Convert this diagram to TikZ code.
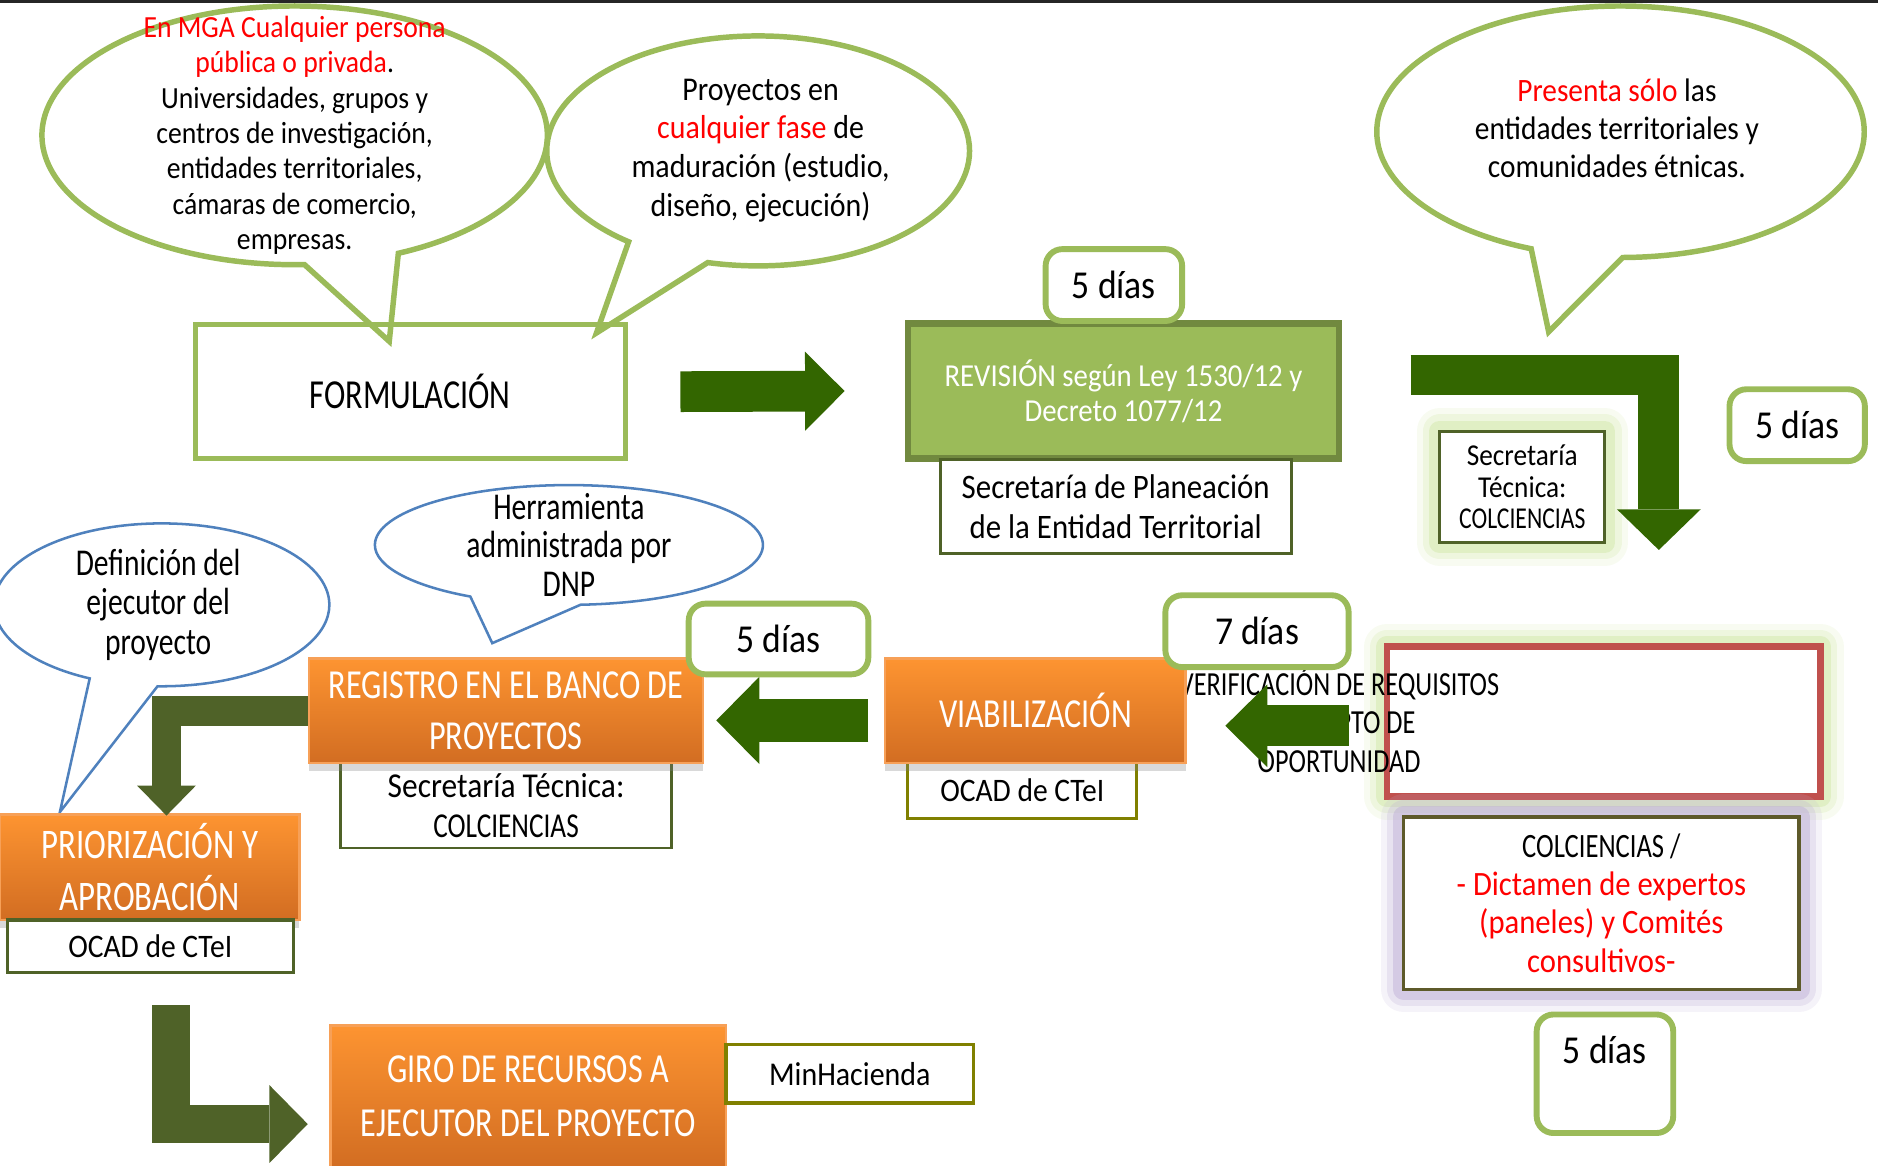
\documentclass[tikz,border=0pt]{standalone}
\usepackage{fontspec}
\setmainfont{Carlito}[FakeStretch=0.9]
\newfontfamily\angosta{Carlito}[FakeStretch=0.78]
\usetikzlibrary{shapes.callouts,arrows.meta,shadows}

\newcommand\tam[2]{\fontsize{#1}{#2}\selectfont}

\definecolor{verdeclaro}{HTML}{9BBB59}
\definecolor{verdeborde}{HTML}{71893F}
\definecolor{verdeflecha}{HTML}{336600}
\definecolor{oliva}{HTML}{4F6228}
\definecolor{amarillento}{HTML}{808000}
\definecolor{oscuro}{HTML}{5E5A2A}
\definecolor{naranjaalto}{HTML}{FD9431}
\definecolor{naranjabajo}{HTML}{D26D22}
\definecolor{naranjaborde}{HTML}{F7A057}
\definecolor{rojo}{HTML}{FF0000}
\definecolor{rojoborde}{HTML}{C0504D}
\definecolor{brilloverde}{HTML}{CFE6A4}
\definecolor{lila}{HTML}{BDAED6}
\definecolor{azul}{HTML}{4F81BD}

\tikzset{
  texto/.style={align=center, inner sep=0pt},
  burbuja/.style={ellipse callout, draw=verdeclaro, line width=1.3pt, fill=white, inner sep=0pt},
  burbujaazul/.style={ellipse callout, draw=azul, line width=0.6pt, fill=white, inner sep=0pt},
  dias/.style={draw=verdeclaro, line width=1.4pt, rounded corners=4pt, fill=white, texto, font=\tam{9.4}{11}},
  caja/.style={draw=#1, line width=0.7pt, fill=white, texto},
  naranja/.style={top color=naranjaalto, bottom color=naranjabajo, draw=naranjaborde, line width=0.6pt,
    text=white, texto, drop shadow={opacity=0.3, shadow xshift=0pt, shadow yshift=-2pt}},
  brillo/.style={preaction={draw=#1, line width=11pt, line join=round, opacity=.15},
    preaction={draw=#1, line width=8pt, line join=round, opacity=.25},
    preaction={draw=#1, line width=5pt, line join=round, opacity=.45}},
  flecha/.style n args={4}{draw=#1, line width=#2, line join=miter,
    -{Triangle[width=#3, length=#4, line width=0pt]}}
}

\begin{document}
\begin{tikzpicture}[x=1cm, y=-1cm]
\useasboundingbox (0,0) rectangle (15.68,9.73);
\draw[line width=0.7pt, black!85] (0,0.01) -- (15.68,0.01);

% 1. Burbujas de arriba
\node[burbuja, minimum width=4.22cm, minimum height=2.16cm, callout absolute pointer={(3.25,2.85)}, callout pointer arc=22] (burbujaA) at (2.46,1.13) {};
\node[texto, font=\tam{7.3}{8.4}] (textoA) at (2.46,1.13) {\textcolor{rojo}{En MGA Cualquier persona}\\ \textcolor{rojo}{pública o privada}.\\ Universidades, grupos y\\ centros de investigación,\\ entidades territoriales,\\ cámaras de comercio,\\ empresas.};

\node[burbuja, minimum width=3.53cm, minimum height=1.92cm, callout absolute pointer={(4.98,2.78)}, callout pointer arc=24] (burbujaB) at (6.33,1.26) {};
\node[texto, font=\tam{7.9}{9.2}] (textoB) at (6.35,1.255) {Proyectos en\\ \textcolor{rojo}{cualquier fase} de\\ maduración (estudio,\\ diseño, ejecución)};

\node[burbuja, minimum width=4.07cm, minimum height=2.10cm, callout absolute pointer={(12.93,2.77)}, callout pointer arc=22] (burbujaC) at (13.53,1.10) {};
\node[texto, font=\tam{7.75}{9.1}] (textoC) at (13.50,1.07) {\textcolor{rojo}{Presenta sólo} las\\ entidades territoriales y\\ comunidades étnicas.};

% 2. Primera fila
\node[caja=verdeclaro, line width=1.2pt, fill=none, minimum width=3.59cm, minimum height=1.12cm, font=\angosta\tam{9.8}{12}] (formulacion) at (3.425,3.27) {FORMULACIÓN};
\node[draw=verdeborde, fill=verdeclaro, line width=1.6pt, text=white, texto, minimum width=3.6cm, minimum height=1.13cm, font=\tam{7.6}{8.3}] (revision) at (9.38,3.265) {REVISIÓN según Ley 1530/12 y\\ Decreto 1077/12};
\node[caja=oliva, minimum width=2.93cm, minimum height=0.78cm, font=\tam{8.15}{9.4}] (planeacion) at (9.315,4.23) {Secretaría de Planeación\\ de la Entidad Territorial};
\node[dias, minimum width=1.14cm, minimum height=0.60cm] (dias1) at (9.30,2.38) {5 días};

\draw[flecha={verdeflecha}{0.34cm}{0.66cm}{0.33cm}] ([xshift=0.44cm]formulacion.east) -- ([xshift=-0.5cm]revision.west);

\node[caja=oliva, brillo=brilloverde, minimum width=1.38cm, minimum height=0.93cm, font=\tam{7.2}{7.5}] (sectec1) at (12.71,4.065) {Secretaría\\ Técnica:\\ {\angosta COLCIENCIAS}};
\node[dias, minimum width=1.13cm, minimum height=0.60cm] (dias2) at (15.005,3.55) {5 días};

% 3. Segunda fila
\node[burbujaazul, minimum width=2.80cm, minimum height=1.36cm, callout absolute pointer={(0.50,6.78)}, callout pointer arc=24] (burbujaE) at (1.35,5.05) {};
\node[texto, font=\angosta\tam{9}{9.3}] (textoE) at (1.32,5.05) {Definición del\\ ejecutor del\\ proyecto};
\node[burbujaazul, minimum width=3.24cm, minimum height=1.00cm, callout absolute pointer={(4.11,5.37)}, callout pointer arc=34] (burbujaD) at (4.75,4.55) {};
\node[texto, font=\angosta\tam{9}{9.2}] (textoD) at (4.75,4.55) {Herramienta\\ administrada por\\ DNP};

\node[caja=rojoborde, line width=1.6pt, brillo=brilloverde, minimum width=3.62cm, minimum height=1.25cm] (requisitos) at (13.39,6.025) {};
\node[texto, font=\angosta\tam{8}{9.1}] (textoreq) at (11.18,6.01) {VERIFICACIÓN DE REQUISITOS\\ CONCEPTO DE\\ OPORTUNIDAD};
\draw[flecha={verdeflecha}{0.34cm}{0.70cm}{0.34cm}] ([shift={(0.57,-0.135)}]revision.east) -| ([shift={(0.46,-0.78)}]requisitos.north);

\node[caja=amarillento, minimum width=1.91cm, minimum height=0.46cm, font=\tam{7.8}{9}] (ocad1) at (8.535,6.60) {OCAD de CTeI};
\node[naranja, minimum width=2.51cm, minimum height=0.87cm, font=\angosta\tam{9.8}{12}] (viab) at (8.645,5.935) {VIABILIZACIÓN};
\draw[flecha={verdeflecha}{0.34cm}{0.69cm}{0.35cm}] ([shift={(-0.29,0.035)}]requisitos.west) -- ([shift={(0.32,0.125)}]viab.east);
\node[dias, minimum width=1.53cm, minimum height=0.60cm] (dias4) at (10.495,5.27) {7 días};

\node[caja=oliva, minimum width=2.77cm, minimum height=0.71cm, font=\tam{8.3}{9.4}] (sectec2) at (4.225,6.725) {Secretaría Técnica:\\ {\angosta COLCIENCIAS}};
\node[naranja, minimum width=3.29cm, minimum height=0.87cm, font=\angosta\tam{9.8}{12.2}] (registro) at (4.225,5.935) {REGISTRO EN EL BANCO DE\\ PROYECTOS};
\draw[flecha={verdeflecha}{0.36cm}{0.73cm}{0.36cm}] ([shift={(-0.13,0.08)}]viab.west) -- ([shift={(0.10,0.08)}]registro.east);
\node[dias, minimum width=1.50cm, minimum height=0.59cm] (dias3) at (6.50,5.335) {5 días};

\node[caja=oscuro, line width=0.8pt, brillo=lila, minimum width=3.30cm, minimum height=1.44cm, font=\tam{8.1}{9.1}] (colciencias) at (13.37,7.54) {{\angosta COLCIENCIAS /}\\ \textcolor{rojo}{- Dictamen de expertos}\\ \textcolor{rojo}{(paneles) y Comités}\\ \textcolor{rojo}{consultivos-}};
\node[dias, minimum width=1.14cm, text height=0.41cm, text depth=0.58cm] (dias5) at (13.40,8.965) {5 días};

% 4. Tercera fila
\node[naranja, minimum width=2.50cm, minimum height=0.88cm, font=\angosta\tam{10}{12.3}] (prior) at (1.25,7.24) {PRIORIZACIÓN Y\\ APROBACIÓN};
\node[caja=oliva, line width=0.8pt, minimum width=2.39cm, minimum height=0.44cm, font=\tam{7.8}{9}] (ocad2) at (1.255,7.90) {OCAD de CTeI};
\draw[flecha={oliva}{0.245cm}{0.49cm}{0.25cm}] (registro.west) -| ([shift={(0.14,0.02)}]prior.north);

\node[naranja, minimum width=3.30cm, minimum height=1.19cm, font=\angosta\tam{9.8}{12.8}] (giro) at (4.41,9.155) {GIRO DE RECURSOS A\\ EJECUTOR DEL PROYECTO};
\node[caja=amarillento, line width=0.8pt, minimum width=2.07cm, minimum height=0.49cm, font=\tam{7.9}{9}] (minhacienda) at (7.095,8.965) {MinHacienda};
\draw[flecha={oliva}{0.32cm}{0.65cm}{0.32cm}] ([shift={(0.17,0.26)}]ocad2.south) |- ([shift={(-0.18,0.23)}]giro.west);
\end{tikzpicture}
\end{document}
